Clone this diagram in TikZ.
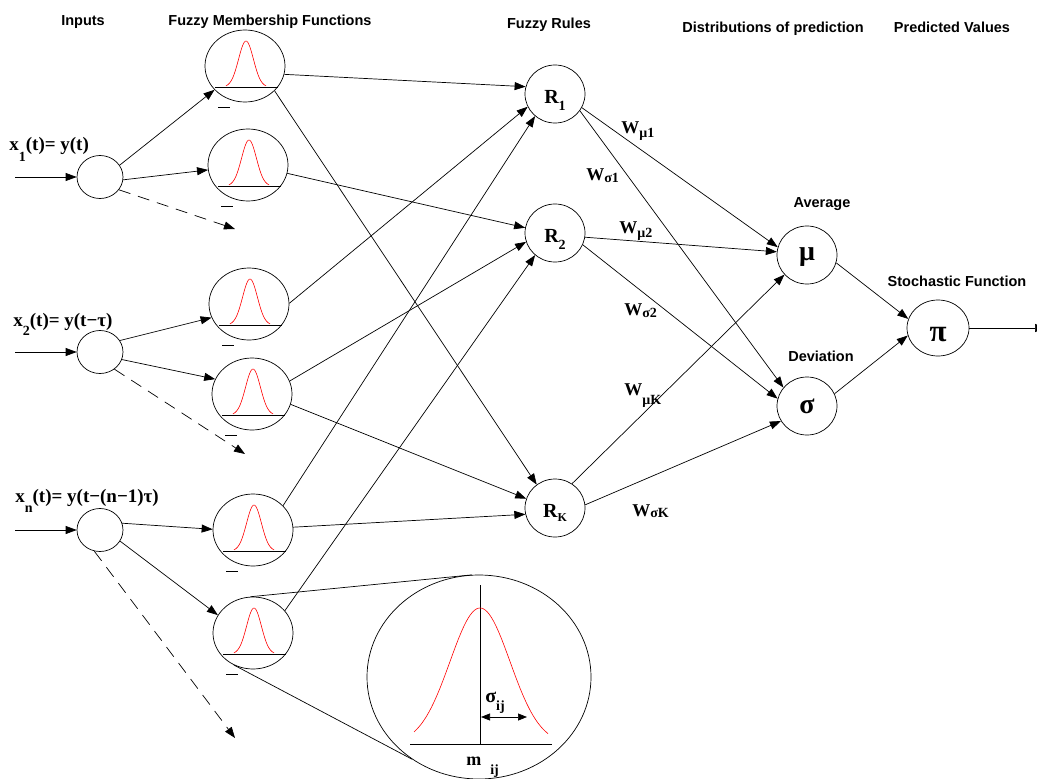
\documentclass[tikz,border=0pt]{standalone}
\usepackage{fontspec}
\setmainfont{Liberation Sans}
\newfontfamily\wfont{Liberation Serif}
\usetikzlibrary{arrows.meta,shapes.geometric}

\newcommand\lsub[2][5pt]{\raisebox{-#1}{\fontsize{14}{14}\selectfont #2}}

\tikzset{
  neuron/.style={draw, ellipse, inner sep=0pt, minimum width=60pt, minimum height=58pt},
  inp/.style={neuron, minimum width=46pt, minimum height=43pt},
  mf/.style={neuron, minimum width=80pt, minimum height=72pt},
  hdr/.style={inner sep=0pt, font=\fontsize{14.5}{17}\selectfont\bfseries},
  slab/.style={inner sep=0pt, anchor=base west, font=\wfont\fontsize{18}{21}\selectfont\bfseries},
  xlab/.style={slab, font=\wfont\fontsize{19}{22}\selectfont\bfseries},
  rlab/.style={font=\wfont\fontsize{20}{23}\selectfont\bfseries, text height=19pt, text depth=0pt},
  gk/.style={font=\wfont\fontsize{28}{32}\selectfont\bfseries, text depth=0pt},
  gauss/.style={red, line width=0.6pt},
  dsh/.style={dash pattern=on 12pt off 8pt},
}

\begin{document}
\begin{tikzpicture}[x=1pt, y=-1pt, >={Triangle[length=11pt,width=8pt]}, line width=0.7pt]
	\useasboundingbox (0,0) rectangle (1037,779);
	% headers
	\node[hdr] (hin) at (83,22) {Inputs};
	\node[hdr] (hmf) at (270,22) {Fuzzy Membership Functions};
	\node[hdr] (hru) at (549,25) {Fuzzy Rules};
	\node[hdr] (hdi) at (773,29) {Distributions of prediction};
	\node[hdr] (hpv) at (952,27) {Predicted Values};
	\node[hdr] (hav) at (822,204) {Average};
	\node[hdr] (hdv) at (821,356) {Deviation};
	\node[hdr] (hst) at (957,281) {Stochastic Function};
	% inputs
	\node[inp] (in1) at (100,177) {};
	\node[inp] (in2) at (100,352) {};
	\node[inp] (in3) at (100,530) {};
	\coordinate (s1) at (15,177);
	\coordinate (s2) at (15,352);
	\coordinate (s3) at (15,530);
	\draw[->] (s1) -- (in1);
	\draw[->] (s2) -- (in2);
	\draw[->] (s3) -- (in3);
	\node[xlab] (x1) at (9,150) {x\lsub[11pt]{1}(t)= y(t)};
	\node[xlab] (x2) at (13,326) {x\lsub[9pt]{2}(t)= y(t−τ)};
	\node[xlab] (x3) at (15,502) {x\lsub[10pt]{n}(t)= y(t−(n−1)τ)};
	% membership functions
	\node[mf] (mf1a) at (245,66) {};
	\node[mf] (mf1b) at (248,165) {};
	\node[mf] (mf2a) at (249,304) {};
	\node[mf] (mf2b) at (252,394) {};
	\node[mf] (mf3a) at (253,530) {};
	\node[mf] (mf3b) at (253,633) {};
	\foreach \m in {mf1a,mf1b,mf2a,mf2b,mf3a,mf3b} {
		\begin{scope}[shift={(\m.center)}]
			\draw (-30,21) -- (33,21);
			\draw[gauss] plot[domain=-19:21, samples=40, smooth] (\x, {21-46*exp(-((\x-1)*(\x-1))/110)});
			\draw (-27,41) -- (-15,41);
		\end{scope}
	}
	\coordinate (d1) at (235,229);
	\coordinate (d2) at (245,454);
	\coordinate (d3) at (235,738);
	\draw[->] (in1.31) -- (mf1a.218);
	\draw[->] (in1.-7) -- (mf1b.187);
	\draw[->, dsh] (in1.-34) -- (d1);
	\draw[->] (in2.30) -- (mf2a.200);
	\draw[->] (in2.-19) -- (mf2b.158);
	\draw[->, dsh] (in2.-50) -- (d2);
	\draw[->] (in3.17) -- (mf3a.179);
	\draw[->] (in3.-29) -- (mf3b.153);
	\draw[->, dsh] (in3.-105) -- (d3);
	% rules
	\node[neuron, rlab] (r1) at (555,94) {R\lsub[7pt]{1}};
	\node[neuron, rlab] (r2) at (555,233) {R\lsub[7pt]{2}};
	\node[neuron, rlab] (rk) at (555,508) {R\lsub[4pt]{\fontsize{12}{12}\selectfont K}};
	\draw[->] (mf1a.-12) -- (r1.166);
	\draw[->] (mf1a.-40) -- (rk.128);
	\draw[->] (mf1b.-12) -- (r2.170);
	\draw[->] (mf2a.1) -- (r1.205);
	\draw[->] (mf2b.19) -- (r2.197);
	\draw[->] (mf2b.-15) -- (rk.162);
	\draw[->] (mf3a.39) -- (r1.228);
	\draw[->] (mf3a.4) -- (rk.192);
	\draw[->] (mf3b.35) -- (r2.228);
	% distributions and output
	\node[neuron, gk, text height=10pt] (mu) at (807,255) {μ};
	\node[neuron, gk, text height=14pt] (sg) at (807,406) {σ};
	\node[neuron, gk, text height=26pt, minimum width=62pt, minimum height=56pt, font=\wfont\fontsize{31}{35}\selectfont\bfseries] (pi) at (938,328) {π};
	\coordinate (out) at (1046,328);
	\draw[->] (r1.-27) -- (mu.165);
	\draw[->] (r1.-34) -- (sg.142);
	\draw[->] (r2.-8) -- (mu.174);
	\draw[->] (r2.-23) -- (sg.166);
	\draw[->] (rk.55) -- (mu.221);
	\draw[->] (rk.6) -- (sg.210);
	\draw[->] (mu.-15) -- (pi.163);
	\draw[->] (sg.24) -- (pi.194);
	\draw[->] (pi) -- (out);
	\node[slab] (wm1) at (621,133) {W\lsub[4pt]{μ1}};
	\node[slab] (ws1) at (586,180) {W\lsub[2pt]{σ1}};
	\node[slab] (wm2) at (619,233) {W\lsub[4pt]{μ2}};
	\node[slab] (ws2) at (624,315) {W\lsub[2pt]{σ2}};
	\node[slab] (wmk) at (624,395) {W\lsub[9pt]{μK}};
	\node[slab] (wsk) at (632,516) {W\lsub[1pt]{σK}};
	% zoomed membership function
	\node[draw, ellipse, inner sep=0pt, minimum width=224pt, minimum height=204pt] (zm) at (479,677) {};
	\draw (mf3b.94) -- (zm.94);
	\draw (mf3b.239) -- (zm.231);
	\draw (410,744) -- (552,744);
	\draw (480,585) -- (480,744);
	\draw[gauss] plot[domain=-66:68, samples=80, smooth] ({480+\x}, {744-136*exp(-(\x*\x)/1800)});
	\draw[<->, >={Triangle[length=9pt,width=7pt]}] (481,717) -- (527,717);
	\node[slab, font=\wfont\fontsize{20}{23}\selectfont\bfseries] (sij) at (485,702) {σ\lsub[8pt]{ij}};
	\node[slab] (mij) at (466,765) {m\hspace{9pt}\lsub[9pt]{ij}};
\end{tikzpicture}
\end{document}
